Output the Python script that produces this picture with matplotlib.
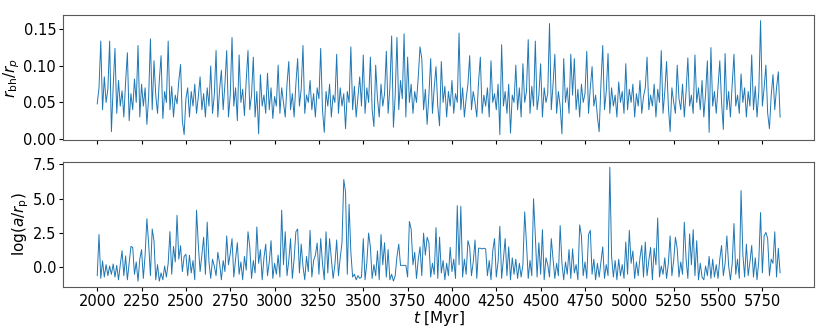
import matplotlib

matplotlib.use("Agg")
import matplotlib.pyplot as plt
import numpy as np

# sampling grid of the run (Myr)
t_start, t_stop, t_step = 2000, 5850, 10

r_bh_over_rp = [
    0.048, 0.07, 0.134, 0.04, 0.085, 0.05, 0.068, 0.134, 0.01, 0.072,
    0.124, 0.035, 0.08, 0.045, 0.066, 0.03, 0.078, 0.118, 0.025, 0.062,
    0.04, 0.082, 0.05, 0.128, 0.03, 0.075, 0.045, 0.07, 0.02, 0.058,
    0.137, 0.04, 0.107, 0.06, 0.035, 0.08, 0.114, 0.028, 0.065, 0.05,
    0.134, 0.04, 0.072, 0.03, 0.06, 0.048, 0.08, 0.102, 0.025, 0.006,
    0.055, 0.07, 0.03, 0.065, 0.045, 0.075, 0.035, 0.058, 0.085, 0.04,
    0.062, 0.03, 0.07, 0.045, 0.1, 0.035, 0.06, 0.121, 0.03, 0.068,
    0.094, 0.04, 0.075, 0.121, 0.03, 0.06, 0.139, 0.045, 0.07, 0.025,
    0.115, 0.05, 0.068, 0.032, 0.08, 0.121, 0.04, 0.06, 0.112, 0.03,
    0.065, 0.007, 0.088, 0.045, 0.06, 0.035, 0.09, 0.04, 0.07, 0.028,
    0.058, 0.045, 0.101, 0.035, 0.07, 0.05, 0.03, 0.075, 0.106, 0.04,
    0.062, 0.03, 0.075, 0.11, 0.045, 0.068, 0.128, 0.035, 0.06, 0.05,
    0.08, 0.04, 0.062, 0.03, 0.07, 0.055, 0.124, 0.04, 0.009, 0.065,
    0.045, 0.075, 0.03, 0.06, 0.05, 0.116, 0.035, 0.07, 0.045, 0.062,
    0.014, 0.065, 0.05, 0.126, 0.04, 0.072, 0.03, 0.058, 0.085, 0.045,
    0.115, 0.035, 0.07, 0.05, 0.112, 0.04, 0.017, 0.101, 0.055, 0.03,
    0.075, 0.045, 0.062, 0.12, 0.035, 0.07, 0.141, 0.016, 0.06, 0.139,
    0.04, 0.08, 0.055, 0.144, 0.03, 0.112, 0.05, 0.075, 0.035, 0.065,
    0.05, 0.085, 0.126, 0.11, 0.04, 0.068, 0.02, 0.06, 0.11, 0.035,
    0.07, 0.099, 0.045, 0.018, 0.106, 0.05, 0.072, 0.03, 0.065, 0.045,
    0.08, 0.035, 0.062, 0.05, 0.145, 0.04, 0.07, 0.03, 0.055, 0.075,
    0.114, 0.04, 0.065, 0.05, 0.03, 0.078, 0.112, 0.035, 0.06, 0.045,
    0.07, 0.03, 0.107, 0.05, 0.062, 0.04, 0.075, 0.006, 0.129, 0.045,
    0.065, 0.035, 0.075, 0.008, 0.06, 0.05, 0.101, 0.04, 0.07, 0.03,
    0.103, 0.05, 0.065, 0.136, 0.035, 0.072, 0.045, 0.134, 0.04, 0.06,
    0.103, 0.03, 0.07, 0.05, 0.062, 0.158, 0.04, 0.075, 0.116, 0.035,
    0.065, 0.045, 0.007, 0.11, 0.05, 0.07, 0.035, 0.116, 0.06, 0.11,
    0.04, 0.068, 0.03, 0.075, 0.05, 0.062, 0.12, 0.035, 0.07, 0.099,
    0.045, 0.06, 0.03, 0.01, 0.075, 0.128, 0.04, 0.065, 0.117, 0.035,
    0.07, 0.045, 0.06, 0.03, 0.078, 0.05, 0.065, 0.035, 0.103, 0.04,
    0.068, 0.05, 0.075, 0.03, 0.062, 0.045, 0.08, 0.035, 0.058, 0.07,
    0.112, 0.04, 0.06, 0.045, 0.075, 0.03, 0.068, 0.05, 0.121, 0.035,
    0.065, 0.106, 0.045, 0.01, 0.07, 0.05, 0.035, 0.101, 0.055, 0.04,
    0.075, 0.03, 0.065, 0.111, 0.045, 0.06, 0.035, 0.115, 0.05, 0.07,
    0.04, 0.08, 0.03, 0.062, 0.107, 0.009, 0.125, 0.045, 0.065, 0.035,
    0.07, 0.107, 0.05, 0.013, 0.117, 0.04, 0.065, 0.03, 0.075, 0.116,
    0.045, 0.06, 0.035, 0.089, 0.05, 0.07, 0.03, 0.065, 0.045, 0.115,
    0.04, 0.072, 0.03, 0.065, 0.162, 0.045, 0.07, 0.101, 0.035, 0.014,
    0.06, 0.088, 0.04, 0.07, 0.092, 0.03,
]

log_a_over_rp = [
    -0.6, 2.4, -0.8, 0.47, -0.7, 0.2, -0.6, 0.1, -0.5, 0.25,
    -0.7, 0.15, -0.9, 0.2, 1.22, -0.6, 0.84, -0.9, 0.3, 1.53,
    1.46, -0.5, 0.4, -1.0, 0.6, 1.3, -0.8, 0.9, 3.55, 1.7,
    -0.6, 2.8, 1.95, -0.9, 0.2, -1.0, -0.4, -0.9, 0.1, -0.7,
    0.3, 2.61, -0.5, 1.53, 0.4, 3.8, 0.6, 1.58, -0.3, 0.8,
    0.96, -0.6, 0.89, -0.4, 0.5, -0.9, 4.17, 1.63, -0.3, 0.9,
    2.2, -0.5, 3.3, 0.4, -0.8, 0.6, 0.1, -0.6, 1.1, 0.3,
    -0.9, 0.5, -0.3, 2.3, 0.2, 1.0, 2.1, -0.7, 0.6, 1.8,
    -0.5, 0.4, -0.9, 0.8, -0.2, 2.6, 1.5, -0.8, 0.5, -0.4,
    2.95, 0.3, 1.3, -0.9, 0.7, 1.7, -0.6, 0.4, 1.95, -0.8,
    0.3, -0.5, 0.9, -0.7, 4.17, 0.2, 2.6, -0.6, 0.5, 2.1,
    -0.8, 0.6, 2.6, 2.8, -0.4, 1.7, 0.1, -0.9, 0.8, -0.3,
    2.7, -0.7, 0.5, 0.9, 1.78, -0.5, 2.1, 0.3, -0.9, 2.6,
    -0.4, 2.1, 0.6, -0.8, 0.2, 2.0, -0.6, 0.7, 1.8, 6.4,
    5.5, -0.5, 4.6, 1.1, -0.7, -0.5, -0.9, -0.6, -0.8, -0.7,
    2.1, -0.9, 0.3, 2.5, 1.5, -0.8, 0.2, -0.6, 1.2, -0.9,
    2.4, 0.2, 1.8, -0.7, 1.3, -0.9, -0.5, -1.0, -0.6, 0.8,
    1.7, 0.15, 0.15, 0.15, 0.15, -0.7, 3.35, 2.8, 0.2, 1.1,
    -0.8, 0.6, 1.5, -0.6, 2.5, 0.9, 2.2, 1.8, -0.7, 0.3,
    -0.5, 2.9, -0.8, 2.2, -0.4, 0.5, -0.9, 0.3, -0.6, 1.46,
    -0.3, 0.6, -0.8, 4.5, 0.2, 4.45, -0.7, 0.6, -0.5, 1.95,
    1.46, -0.6, 0.4, 2.0, -0.8, 1.4, 1.4, 1.35, 1.4, 1.35,
    -0.6, 0.5, -0.9, 1.2, 2.1, -0.7, 0.4, 3.0, -0.8, 0.6,
    2.1, -0.6, 1.5, -0.9, 0.7, -0.5, 0.6, -0.8, 0.3, -0.7,
    0.2, 4.05, 1.8, -0.8, 0.5, -0.6, 5.0, 2.3, -0.7, 1.8,
    -0.5, 2.75, -0.9, 0.7, 0.2, -0.7, 2.1, 0.6, -0.8, 0.3,
    -0.6, 3.05, 0.3, -0.9, 0.4, -0.5, 1.3, -0.8, 1.35, -0.4,
    0.2, -0.9, 3.1, 2.3, -0.6, 0.4, -0.8, 2.4, 2.7, -0.5,
    0.6, -0.9, 0.3, -0.7, 0.4, 1.5, -0.8, 0.2, -0.6, 7.3,
    0.8, -0.7, 0.5, -0.9, 0.6, -0.6, 0.2, -0.8, 1.85, -0.5,
    2.7, 0.3, 1.2, -0.8, 0.4, -0.6, 0.7, 1.6, -0.7, 1.85,
    -0.6, 0.5, 1.46, -0.9, 1.4, 0.2, 3.6, -0.7, 0.1, -0.5,
    0.7, -0.8, 0.3, 2.3, -0.6, 0.5, 2.2, 1.35, -0.7, 0.4,
    -0.5, 3.3, 0.6, -0.8, 2.45, 0.2, 2.75, -0.6, 1.95, -0.9,
    0.3, -0.7, -0.9, 0.1, -0.6, 0.8, -0.8, 0.6, -0.7, 0.2,
    -0.8, 0.6, 1.6, -0.6, 0.3, 2.3, 0.1, -0.9, 0.3, 3.2,
    -0.5, 0.6, -0.8, 5.6, 1.0, -0.7, 1.7, -0.6, 0.4, 1.6,
    -0.7, 0.7, -0.9, 0.5, 4.0, -0.4, 2.3, 2.55, 2.1, -0.6,
    0.6, 0.3, 2.6, -0.7, 1.4, -0.4,
]

x_ticks = list(range(2000, 5751, 250))
top_y_ticks = [0.0, 0.05, 0.10, 0.15]
bottom_y_ticks = [0.0, 2.5, 5.0, 7.5]

t = np.arange(t_start, t_stop + 1, t_step)

fig, (ax1, ax2) = plt.subplots(2, 1, figsize=(8.3, 3.32), dpi=100, sharex=True)
fig.subplots_adjust(left=0.076, right=0.981, top=0.955, bottom=0.136, hspace=0.17)

ax1.plot(t, r_bh_over_rp, color="#1f77b4", lw=0.7)
ax1.set_ylabel(r"$r_{\rm bh}/r_p$", fontsize=11, labelpad=1)
ax1.set_yticks(top_y_ticks)

ax2.plot(t, log_a_over_rp, color="#1f77b4", lw=0.7)
ax2.set_ylabel(r"$\log(a/r_{\rm p})$", fontsize=11, labelpad=1)
ax2.set_xlabel(r"$t$ [Myr]", fontsize=11, labelpad=0)
ax2.set_xticks(x_ticks)
ax2.set_yticks(bottom_y_ticks)

for ax in (ax1, ax2):
    ax.tick_params(labelsize=10.5, length=3, pad=2)
    for s in ax.spines.values():
        s.set_color("0.35")

fig.savefig("out.png", dpi=100)
